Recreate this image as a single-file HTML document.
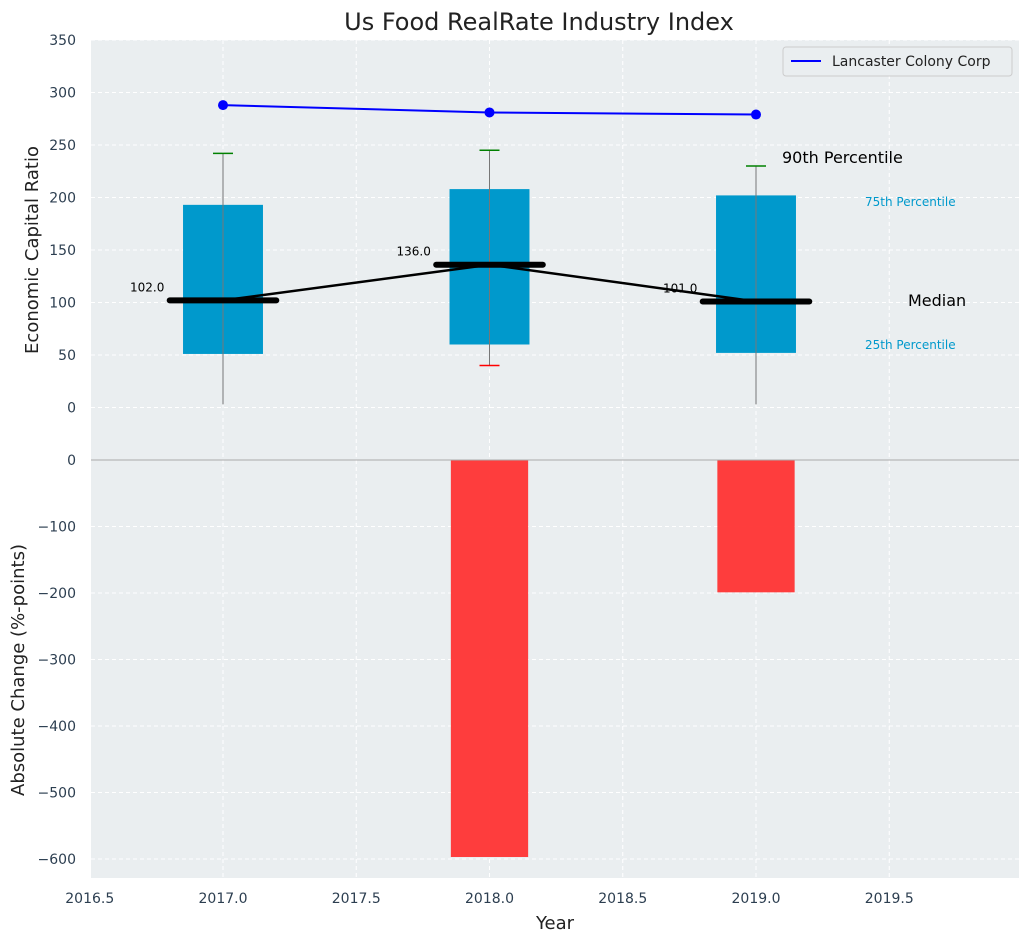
<!DOCTYPE html>
<html><head><meta charset="utf-8"><style>
body{margin:0;background:#fff;font-family:"Liberation Sans","DejaVu Sans",sans-serif}
</style></head><body>
<svg id="chart" width="1029" height="942" xmlns="http://www.w3.org/2000/svg" font-family="DejaVu Sans, Liberation Sans, sans-serif">
<text x="539" y="30" font-size="24" text-anchor="middle" fill="#222">Us Food RealRate Industry Index</text>
<rect x="91" y="40" width="928" height="420" fill="#eaeef0"/>
<rect x="91" y="460" width="928" height="418" fill="#eaeef0"/>
<g id="grid"></g><g id="marks"></g><g id="axes"></g>
<text x="38" y="250" font-size="18" fill="#222" text-anchor="middle" transform="rotate(-90 38 250)">Economic Capital Ratio</text>
<text x="24" y="670" font-size="18" fill="#222" text-anchor="middle" transform="rotate(-90 24 670)">Absolute Change (%-points)</text>
<text x="555" y="929" font-size="18" fill="#222" text-anchor="middle">Year</text>
<text x="782" y="163" font-size="16" fill="#000">90th Percentile</text>
<text x="865" y="206" font-size="12" fill="#0099cc">75th Percentile</text>
<text x="908" y="306" font-size="16" fill="#000">Median</text>
<text x="865" y="349" font-size="12" fill="#0099cc">25th Percentile</text>
<g>
<rect x="783" y="47" width="229" height="29" rx="3" fill="#eaeef0" stroke="#ccc"/>
<line x1="791" y1="61" x2="821" y2="61" stroke="#0000ff" stroke-width="2"/>
<text x="832" y="66" font-size="14" fill="#222">Lancaster Colony Corp</text>
</g>
</svg>
<script>
const years=[2017,2018,2019];
const p25=[51,60,52];
const p75=[193,208,202];
const p90=[242,245,230];
const pLow=[3,40,3];
const medians=[102,136,101];
const company=[288,281,279];
const changes=[0,-597,-199];
const topTicks=[0,50,100,150,200,250,300,350];
const botTicks=[0,-100,-200,-300,-400,-500,-600];
const xTicks=[2016.5,2017,2017.5,2018,2018.5,2019,2019.5];
const NS="http://www.w3.org/2000/svg";
const X=v=>223+(v-2017)*266.5;
const YT=v=>407.5-v*1.05;
const YB=v=>460-v*(-399/-600);
function mk(p,t,a){const e=document.createElementNS(NS,t);for(const k in a)e.setAttribute(k,a[k]);document.getElementById(p).appendChild(e);return e;}
topTicks.forEach(t=>{
 let l=mk('grid','line',{x1:91,x2:1019,y1:YT(t),y2:YT(t),stroke:'#fff','stroke-dasharray':'4,3'});
 
 
 let tx=mk('axes','text',{x:76,y:YT(t)+5,'font-size':14,fill:'#2c3e50','text-anchor':'end'});tx.textContent=t;
 
 
});
botTicks.forEach(t=>{
 let l=mk('grid','line',{x1:91,x2:1019,y1:YB(t),y2:YB(t),stroke:'#fff','stroke-dasharray':'4,3'});
 
 
 let tx=mk('axes','text',{x:76,y:YB(t)+5,'font-size':14,fill:'#2c3e50','text-anchor':'end'});tx.textContent=t<0?'\u2212'+(-t):t;
 
 
});
xTicks.forEach(t=>{
 [[40,460],[460,878]].forEach(r=>{let l=mk('grid','line',{x1:X(t),x2:X(t),y1:r[0],y2:r[1],stroke:'#fff','stroke-dasharray':'4,3'});
 
 });
 let tx=mk('axes','text',{x:X(t),y:903,'font-size':14,fill:'#2c3e50','text-anchor':'middle'});tx.textContent=t.toFixed(1);
 
 
});
let sep=mk('axes','line',{x1:91,x2:1019,y1:460,y2:460,stroke:'#aaa','stroke-width':1});


years.forEach((y,i)=>{
 let b=mk('marks','rect',{x:X(y-0.15),width:X(y+0.15)-X(y-0.15),y:YT(p75[i]),height:YT(p25[i])-YT(p75[i]),fill:'#0099cc'});
 
 
 let w=mk('marks','line',{x1:X(y),x2:X(y),y1:YT(p90[i]),y2:YT(pLow[i]),stroke:'#777','stroke-width':1});
 
 
 let c=mk('marks','line',{x1:X(y)-10,x2:X(y)+10,y1:YT(p90[i]),y2:YT(p90[i]),stroke:'green','stroke-width':1.5});
 
 
 if(pLow[i]>10){let c2=mk('marks','line',{x1:X(y)-10,x2:X(y)+10,y1:YT(pLow[i]),y2:YT(pLow[i]),stroke:'red','stroke-width':1.5});
 
 }
 let ch=mk('marks','rect',{x:X(y-0.145),width:X(y+0.145)-X(y-0.145),y:YB(0),height:YB(changes[i])-YB(0),fill:'#ff3333',opacity:0.95});
 
 
});
let mp=mk('marks','polyline',{points:years.map((y,i)=>X(y)+','+YT(medians[i])).join(' '),fill:'none',stroke:'#000','stroke-width':2.5});


years.forEach((y,i)=>{
 let m=mk('marks','line',{x1:X(y-0.2),x2:X(y+0.2),y1:YT(medians[i]),y2:YT(medians[i]),stroke:'#000','stroke-width':6,'stroke-linecap':'round'});
 
 
 let t=mk('marks','text',{x:X(y-0.22),y:YT(medians[i])-9,'font-size':12,fill:'#000','text-anchor':'end'});t.textContent=medians[i].toFixed(1);
 
 
});
let cl=mk('marks','polyline',{points:years.map((y,i)=>X(y)+','+YT(company[i])).join(' '),fill:'none',stroke:'#0000ff','stroke-width':2});


years.forEach((y,i)=>{let d=mk('marks','circle',{cx:X(y),cy:YT(company[i]),r:5,fill:'#0000ff'});
 
 });
</script>
</body></html>
